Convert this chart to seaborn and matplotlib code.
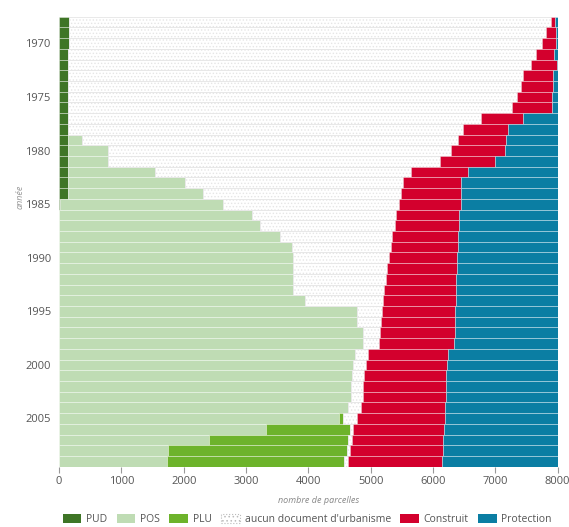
import numpy as np
import pandas as pd
import seaborn as sns
import matplotlib as mpl
from matplotlib import pyplot as plt
from matplotlib.patches import Patch

sns.set_theme(style="white")
plt.rcParams['font.family'] = ['Open Sans', 'DejaVu Sans']
plt.rcParams['hatch.linewidth'] = 0.6
plt.rcParams['hatch.color'] = '#c8c8c8'

years = list(range(1968, 2010))

# number of parcels per category, one value per year (1968 -> 2009)
pud = [155, 155, 155, 135, 135, 135, 135, 135, 135, 135, 135, 135, 135, 135,
       135, 135, 135, 20, 0, 0, 0, 0, 0, 0, 0, 0, 0, 0, 0, 0, 0, 0, 0, 0,
       0, 0, 0, 0, 0, 0, 0, 0]
pos = [0, 0, 0, 0, 0, 0, 0, 0, 0, 0, 0, 234, 652, 652, 1401, 1883, 2176, 2612,
       3088, 3222, 3543, 3730, 3756, 3756, 3756, 3756, 3944, 4773, 4773, 4880,
       4880, 4746, 4719, 4700, 4690, 4677, 4639, 4494, 3318, 2408, 1750, 1724]
plu = [0] * 37 + [65, 1348, 2231, 2863, 2846]
aucun = [7732, 7657, 7598, 7512, 7436, 7313, 7276, 7206, 7126, 6634, 6340,
         6026, 5495, 5324, 4104, 3494, 3169, 2826, 2312, 2167, 1792, 1594,
         1536, 1509, 1483, 1456, 1257, 407, 391, 268, 252, 214, 199, 191, 190,
         193, 204, 214, 53, 54, 53, 69]
construit = [70, 156, 215, 299, 419, 471, 508, 562, 642, 679, 732, 775, 877,
             883, 915, 936, 968, 990, 1016, 1027, 1060, 1071, 1086, 1113, 1131,
             1158, 1161, 1177, 1188, 1198, 1204, 1274, 1305, 1321, 1327, 1342,
             1353, 1412, 1456, 1472, 1489, 1508]
protection = [43, 32, 32, 54, 10, 81, 81, 97, 97, 552, 793, 830, 841, 1006,
              1445, 1552, 1552, 1552, 1584, 1584, 1605, 1605, 1622, 1622, 1630,
              1630, 1638, 1643, 1648, 1654, 1664, 1766, 1777, 1788, 1793, 1788,
              1804, 1815, 1825, 1835, 1845, 1853]

labels = ["PUD", "POS", "PLU", "aucun document d'urbanisme", "Construit", "Protection"]
colors = ['#3e7526', '#bfdcb4', '#6db32b', 'white', '#d3002d', '#0b7ea3']

df = pd.DataFrame({
    "PUD": pud, "POS": pos, "PLU": plu,
    "aucun document d'urbanisme": aucun,
    "Construit": construit, "Protection": protection,
}, index=years)

fig = plt.figure(figsize=(5.69, 5.27), dpi=100)
ax = fig.add_axes([0.104, 0.1144, 0.876, 0.854])

left = np.zeros(len(df))
for lab, col in zip(labels, colors):
    vals = df[lab].values
    if lab.startswith('aucun'):
        ax.barh(df.index, vals, left=left, height=1.0, color='white',
                hatch='.....', edgecolor='#e6e6e6', linewidth=0.6)
    else:
        ax.barh(df.index, vals, left=left, height=1.0, color=col,
                edgecolor=(1, 1, 1, 0.35), linewidth=0.7)
    left += vals

ax.set_xlim(0, 8000)
ax.set_ylim(2009.5, 1967.5)
ax.set_yticks(range(1970, 2006, 5))
ax.set_xticks(range(0, 8001, 1000))
ax.tick_params(axis='x', length=4, width=0.8, color='#999999', colors='#555555',
               labelsize=8, direction='out', bottom=True, pad=3)
ax.tick_params(axis='y', length=0, colors='#555555', labelsize=8, pad=6)

ax.set_xlabel('nombre de parcelles', fontsize=6.5, style='italic', color='#888888')
ax.xaxis.set_label_coords(0.52, -0.064)
ax.set_ylabel('année', fontsize=6.5, style='italic', color='#999999')
ax.yaxis.set_label_coords(-0.07, 0.6)

sns.despine(ax=ax, left=True, bottom=True)

handles = []
for lab, col in zip(labels, colors):
    if lab.startswith('aucun'):
        handles.append(Patch(facecolor='white', edgecolor='#bbbbbb',
                             linestyle=':', linewidth=0.8, hatch='....', label=lab))
    else:
        handles.append(Patch(facecolor=col, edgecolor='none', label=lab))
fig.legend(handles=handles, loc='lower center', bbox_to_anchor=(0.54, -0.014),
           ncol=6, frameon=False, fontsize=7.5, handlelength=1.8,
           handleheight=0.9, columnspacing=0.9, handletextpad=0.45,
           labelcolor='#555555')

fig.savefig('out.png', dpi=100)
